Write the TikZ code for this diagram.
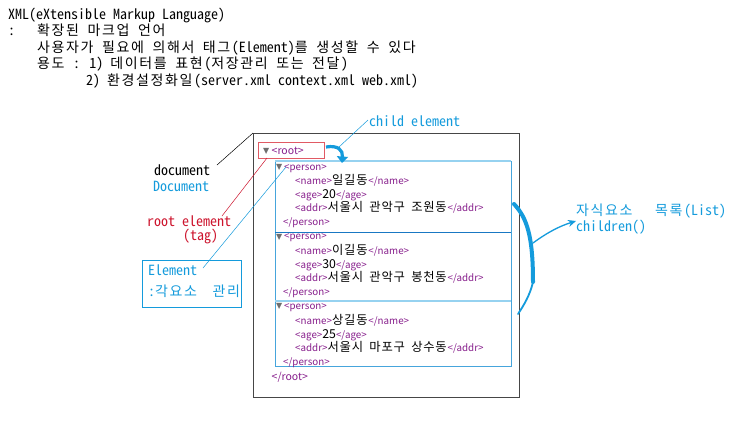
\documentclass[tikz,border=0pt]{standalone}
\usepackage{fontspec}
\setmainfont{Noto Sans CJK KR}
\newfontfamily\monofont{Noto Sans Mono CJK KR}
\newfontfamily\krfont[WordSpace=2]{Noto Sans CJK KR}
\newfontfamily\symfont{DejaVu Sans}
\usetikzlibrary{arrows.meta}
% extra spacing after each Hangul syllable (cell width control)
\newdimen\hangkern \hangkern=0pt
\newcommand{\setmonokern}{\setlength{\hangkern}{1.6pt}}
\newcommand{\settreekern}{\setlength{\hangkern}{0.8pt}}
\XeTeXinterchartokenstate=1
\newXeTeXintercharclass\hangulcls
\makeatletter
\count@="AC00
\loop
  \XeTeXcharclass\count@=\hangulcls
  \advance\count@ by 1
\ifnum\count@<"D7A4 \repeat
\makeatother
\XeTeXinterchartoks\hangulcls 0 = {\kern\hangkern}
\XeTeXinterchartoks\hangulcls\hangulcls = {\kern\hangkern}
\XeTeXinterchartoks\hangulcls 4095 = {\kern\hangkern}
\definecolor{cyanc}{RGB}{20,155,220}
\definecolor{redc}{RGB}{205,20,45}
\definecolor{redbox}{RGB}{225,90,100}
\definecolor{tagc}{RGB}{135,30,140}
\definecolor{trig}{RGB}{110,110,110}
\definecolor{boxb}{RGB}{70,165,220}
\definecolor{boxlight}{RGB}{150,210,240}
\definecolor{boxdark}{RGB}{25,120,195}
\definecolor{framec}{RGB}{70,70,70}
\newcommand{\tg}[1]{{\fontsize{9.8}{12}\selectfont\color{tagc}#1}}
\newcommand{\rtg}[1]{{\fontsize{10.5}{12}\selectfont\color{tagc}#1}}
\begin{document}
\begin{tikzpicture}[x=1pt,y=-1pt,
  toptxt/.style={anchor=base west,inner sep=0pt,font=\monofont\fontsize{14}{16}\selectfont\setmonokern},
  tree/.style={anchor=base west,inner sep=0pt,font=\krfont\fontsize{12.3}{13}\selectfont\settreekern},
  tri/.style={anchor=base west,inner sep=0pt,text=trig,font=\symfont\fontsize{8}{8}\selectfont},
  thinline/.style={line width=0.5pt},
  pbox/.style={draw=boxb,line width=0.8pt}
]
\useasboundingbox[fill=white] (0,0) rectangle (750,432);

% heading text
\node[toptxt] (t1) at (8,19) {XML(eXtensible Markup Language)};
\node[toptxt] (t2a) at (8,35.5) {:};
\node[toptxt] (t2) at (37,35.5) {확장된 마크업 언어};
\node[toptxt] (t3) at (37,52) {사용자가 필요에 의해서 태그(Element)를 생성할 수 있다};
\node[toptxt] (t4) at (37,68.5) {용도 : 1) 데이터를 표현(저장관리 또는 전달)};
\node[toptxt] (t5) at (86,85) {2) 환경설정화일(server.xml context.xml web.xml)};

% outer document frame
\draw[framec,line width=0.9pt] (253,133) coordinate (fr) rectangle (519,397);

% person boxes
\draw[pbox] (275,161) rectangle (511,232);
\draw[pbox] (275,232) rectangle (511,301);
\draw[pbox] (275,301) rectangle (511,366);
\draw[boxlight,line width=2pt] (275,161) -- (511,161);
\draw[boxdark,line width=1pt] (275,232) -- (511,232);
\draw[boxlight,line width=1.2pt] (275,301) -- (511,301);

% root box
\draw[redbox,line width=0.8pt] (258,142) rectangle (324,158);
\coordinate (rootbl) at (267,158);
\node[tri] (trr) at (263,153.5) {▼};
\node[tree] (root) at (271.5,154) {\rtg{<root>}};

% box 1
\node[tri] (tr1) at (276,169.5) {▼};
\node[tree] (p1) at (284,170) {\tg{<person>}};
\node[tree] (n1) at (295,184) {\tg{<name>}일길동\tg{</name>}};
\node[tree] (g1) at (295,198) {\tg{<age>}20\tg{</age>}};
\node[tree] (a1) at (295,211.5) {\tg{<addr>}서울시 관악구 조원동\tg{</addr>}};
\node[tree] (e1) at (283,225) {\tg{</person>}};
% box 2
\node[tri] (tr2) at (276,239) {▼};
\node[tree] (p2) at (284,239.5) {\tg{<person>}};
\node[tree] (n2) at (295,254) {\tg{<name>}이길동\tg{</name>}};
\node[tree] (g2) at (295,268) {\tg{<age>}30\tg{</age>}};
\node[tree] (a2) at (295,281.5) {\tg{<addr>}서울시 관악구 봉천동\tg{</addr>}};
\node[tree] (e2) at (283,295) {\tg{</person>}};
% box 3
\node[tri] (tr3) at (276,308.5) {▼};
\node[tree] (p3) at (284,309) {\tg{<person>}};
\node[tree] (n3) at (295,324) {\tg{<name>}상길동\tg{</name>}};
\node[tree] (g3) at (295,338) {\tg{<age>}25\tg{</age>}};
\node[tree] (a3) at (295,351.5) {\tg{<addr>}서울시 마포구 상수동\tg{</addr>}};
\node[tree] (e3) at (283,365) {\tg{</person>}};
\node[tree] (eroot) at (271.5,380) {\rtg{</root>}};

% left labels
\node[toptxt] (doc) at (154,175) {document};
\node[toptxt,text=cyanc] (Doc) at (153,191) {Document};
\coordinate (docend) at (217,165);
\draw[thinline,black] (docend) -- (fr);

\node[toptxt,text=redc] (rel) at (147,226) {root element};
\node[toptxt,text=redc] (tag) at (183,240.5) {(tag)};
\coordinate (relend) at (222,216);
\draw[thinline,redc] (relend) -- (rootbl);

\node[draw=cyanc,line width=0.8pt,anchor=north west,minimum width=99pt,minimum height=47pt,inner sep=0pt] (elbox) at (142,260) {};
\node[toptxt,text=cyanc] (elt) at (148,275) {Element};
\node[toptxt,text=cyanc] (eld) at (148,296) {:각요소~~관리};
\coordinate (elend) at (203,268);
\coordinate (p1tri) at (286,167);
\draw[thinline,cyanc] (elend) -- (p1tri);

% child element
\node[toptxt,text=cyanc] (child) at (369,126) {child element};
\coordinate (chend) at (368,120);
\coordinate (chtip) at (339,147);
\draw[thinline,cyanc] (chend) -- (chtip);

% curved arrow from root to children
\coordinate (ca0) at (326,147);
\coordinate (ca1) at (342,163);
\draw[cyanc,line width=3.2pt,-{Triangle[width=11pt,length=6.5pt]}] (ca0) .. controls (338,145) and (343,150) .. (ca1);

% right brace-like curve
\coordinate (br0) at (514,204);
\coordinate (br1) at (533,282);
\coordinate (br2) at (518,314);
\coordinate (brm) at (533,243);
\draw[cyanc,line width=4pt,line cap=round] (br0) .. controls (527,218) and (533,236) .. (br1);
\draw[cyanc,line width=1.8pt,line cap=round] (br1) .. controls (530,295) and (524,305) .. (br2);

\node[toptxt,text=cyanc] (list) at (576,215) {자식요소~~~목록(List)};
\node[toptxt,text=cyanc] (childr) at (576,231) {children()};
\coordinate (arrtip) at (576,221);
\draw[cyanc,line width=1.3pt,-{Stealth[length=8pt,width=7pt]}] (brm) .. controls (548,232) and (560,226) .. (arrtip);
\end{tikzpicture}
\end{document}
